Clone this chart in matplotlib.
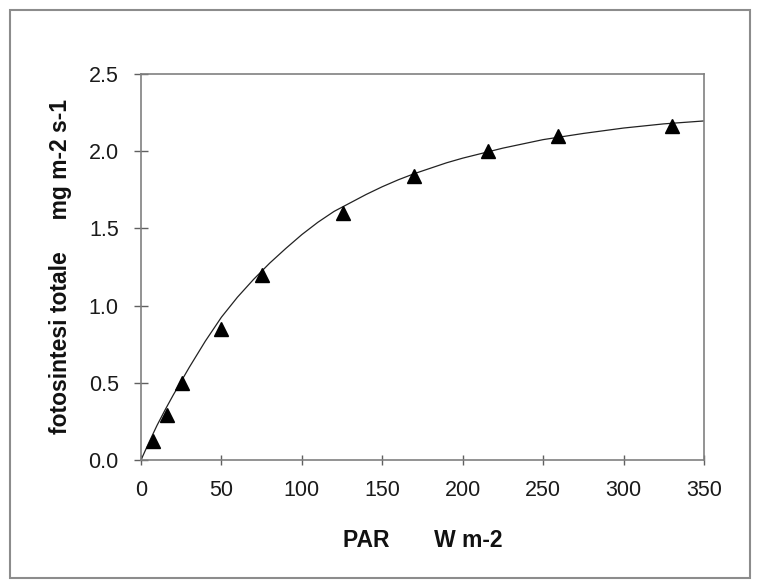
import matplotlib
matplotlib.use("Agg")
import matplotlib.pyplot as plt
from matplotlib.patches import Rectangle

# Measured data (triangles)
par = [7.5, 16, 25.5, 50, 75.5, 125.5, 170, 216, 259.5, 330]
photo = [0.12, 0.29, 0.50, 0.85, 1.20, 1.60, 1.84, 2.00, 2.10, 2.16]

# Fitted curve
curve_x = [0, 5, 10, 15, 20, 25, 30, 40, 50, 60, 70, 80, 90, 100, 110, 120,
           130, 140, 150, 160, 170, 180, 190, 200, 225, 250, 275, 300, 325, 350]
curve_y = [0.0, 0.115, 0.225, 0.325, 0.42, 0.51, 0.60, 0.77, 0.925, 1.055,
           1.17, 1.275, 1.37, 1.46, 1.54, 1.61, 1.665, 1.72, 1.77, 1.815,
           1.855, 1.89, 1.925, 1.955, 2.02, 2.075, 2.115, 2.15, 2.177, 2.196]

xticks = [0, 50, 100, 150, 200, 250, 300, 350]
yticks = [0.0, 0.5, 1.0, 1.5, 2.0, 2.5]

plt.rcParams['font.family'] = ['Liberation Sans', 'DejaVu Sans']

fig = plt.figure(figsize=(7.61, 5.85), dpi=100)
ax = fig.add_axes([141/761, 1-460/585, (704-141)/761, (460-74)/585])

ax.plot(curve_x, curve_y, color='#222222', lw=0.9, zorder=2,
        solid_joinstyle='round')
ax.plot(par, photo, linestyle='none', marker='^', ms=10, color='black',
        zorder=3, clip_on=False)

ax.set_xlim(0, 350)
ax.set_ylim(0, 2.5)
ax.set_xticks(xticks)
ax.set_yticks(yticks)
ax.set_yticklabels([f"{v:.1f}" for v in yticks])
ax.set_xticklabels([str(v) for v in xticks])

for s in ax.spines.values():
    s.set_color('#808080')
    s.set_linewidth(1.2)

ax.tick_params(axis='y', direction='inout', length=10, width=1.0,
               color='#606060', pad=11, labelsize=15.5, labelcolor='#1a1a1a')
ax.tick_params(axis='x', direction='inout', length=7, width=1.0,
               color='#606060', pad=11, labelsize=15.5, labelcolor='#1a1a1a')

ax.set_xlabel("PAR       W m-2", fontsize=16.5, fontweight='bold',
              labelpad=20, color='#111111')
ax.set_ylabel("fotosintesi totale     mg m-2 s-1", fontsize=16.5,
              fontweight='bold', labelpad=12, color='#111111')

# outer border
fig.add_artist(Rectangle((10/761, 1-578/585), 740/761, 568/585,
                         transform=fig.transFigure, fill=False,
                         edgecolor='#8c8c8c', lw=1.5))

fig.savefig("out.png", dpi=100)
